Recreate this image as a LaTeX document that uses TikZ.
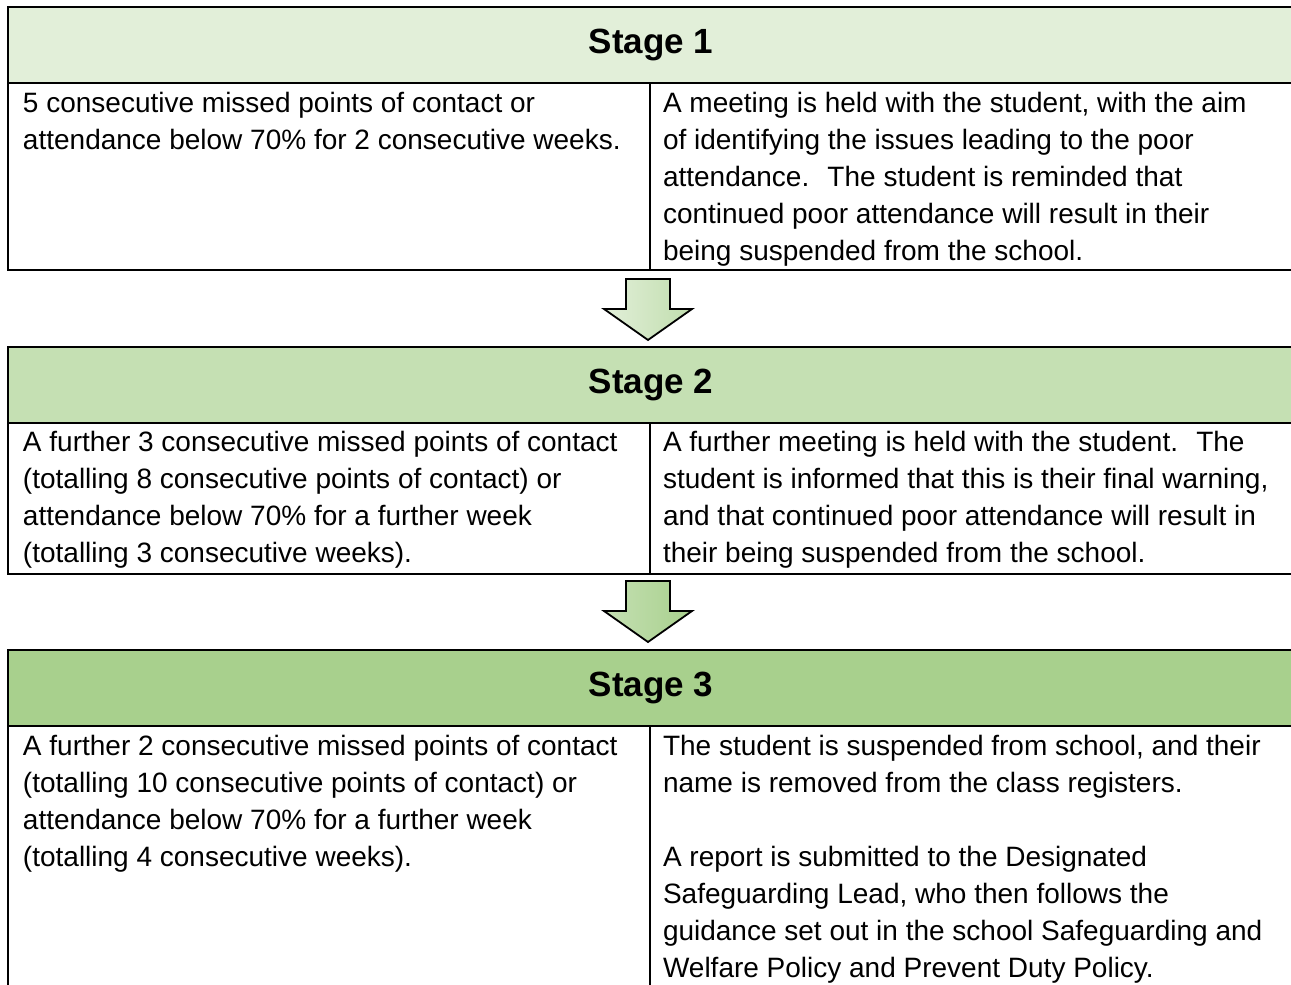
\documentclass[tikz,border=0pt]{standalone}
\usepackage{fontspec}
\setmainfont{Liberation Sans}
\usetikzlibrary{positioning}
\definecolor{stageone}{HTML}{E2EFD9}
\definecolor{stagetwo}{HTML}{C5E0B3}
\definecolor{stagethree}{HTML}{A8D08D}
\begin{document}
\begin{tikzpicture}[x=1pt, y=-1pt]
    % Define Styles
        \tikzstyle{head} = [
            rectangle,
            draw,
            line width = 1.8pt,
            minimum width = 1286pt,
            minimum height = 76pt,
            inner sep = 0pt,
            outer sep = 0pt,
            font = \fontsize{35}{42}\selectfont\bfseries
        ]
        \tikzstyle{cell} = [
            rectangle,
            draw,
            line width = 1.8pt,
            anchor = north west,
            inner sep = 0pt,
            outer sep = 0pt
        ]
        \tikzstyle{txt} = [
            align = left,
            inner sep = 0pt,
            outer sep = 0pt,
            execute at begin node = \strut,
            font = \fontsize{28}{37}\selectfont
        ]
        \tikzstyle{blockarrow} = [
            draw,
            line width = 1.8pt,
            line join = miter
        ]
    \useasboundingbox (0,0) rectangle (1291,985);
    % Place nodes
        % Stage 1
        \node [head, fill=stageone, anchor=north west] (h1) at (8,7) {Stage 1};
        \node [cell, minimum width=642pt, minimum height=187pt] (l1) at (h1.south west) {};
        \node [cell, minimum width=644pt, minimum height=187pt] (r1) at (l1.north east) {};
        \node [txt, below right=9pt and 15pt of l1.north west] (t1l) {%
            5 consecutive missed points of contact or \\
            attendance below 70\% for 2 consecutive weeks.
        };
        \node [txt, below right=9pt and 13pt of r1.north west] (t1r) {%
            A meeting is held with the student, with the aim \\
            of identifying the issues leading to the poor \\
            attendance.~ The student is reminded that \\
            continued poor attendance will result in their \\
            being suspended from the school.
        };
        % Stage 2
        \node [head, fill=stagetwo, below right=77pt and 0pt of l1.south west] (h2) {Stage 2};
        \node [cell, minimum width=642pt, minimum height=151pt] (l2) at (h2.south west) {};
        \node [cell, minimum width=644pt, minimum height=151pt] (r2) at (l2.north east) {};
        \node [txt, below right=8pt and 15pt of l2.north west] (t2l) {%
            A further 3 consecutive missed points of contact \\
            (totalling 8 consecutive points of contact) or \\
            attendance below 70\% for a further week \\
            (totalling 3 consecutive weeks).
        };
        \node [txt, below right=8pt and 13pt of r2.north west] (t2r) {%
            A further meeting is held with the student.~ The \\
            student is informed that this is their final warning, \\
            and that continued poor attendance will result in \\
            their being suspended from the school.
        };
        % Stage 3
        \node [head, fill=stagethree, below right=76pt and 0pt of l2.south west] (h3) {Stage 3};
        \node [cell, minimum width=642pt, minimum height=320pt] (l3) at (h3.south west) {};
        \node [cell, minimum width=644pt, minimum height=320pt] (r3) at (l3.north east) {};
        \node [txt, below right=9pt and 15pt of l3.north west] (t3l) {%
            A further 2 consecutive missed points of contact \\
            (totalling 10 consecutive points of contact) or \\
            attendance below 70\% for a further week \\
            (totalling 4 consecutive weeks).
        };
        \node [txt, below right=9pt and 13pt of r3.north west] (t3r) {%
            The student is suspended from school, and their \\
            name is removed from the class registers. \\[37pt]
            A report is submitted to the Designated \\
            Safeguarding Lead, who then follows the \\
            guidance set out in the school Safeguarding and \\
            Welfare Policy and Prevent Duty Policy.
        };
    % Draw edges
        \path [blockarrow, left color=stageone, right color=stagetwo!85!stagethree]
            (l1.south east) ++(-24,9) -- ++(44,0) -- ++(0,30) -- ++(22,0)
            -- ++(-44,31) -- ++(-44,-31) -- ++(22,0) -- cycle;
        \path [blockarrow, left color=stagetwo, right color=stagethree]
            (l2.south east) ++(-24,7) -- ++(44,0) -- ++(0,30) -- ++(22,0)
            -- ++(-44,31) -- ++(-44,-31) -- ++(22,0) -- cycle;
\end{tikzpicture}
\end{document}
